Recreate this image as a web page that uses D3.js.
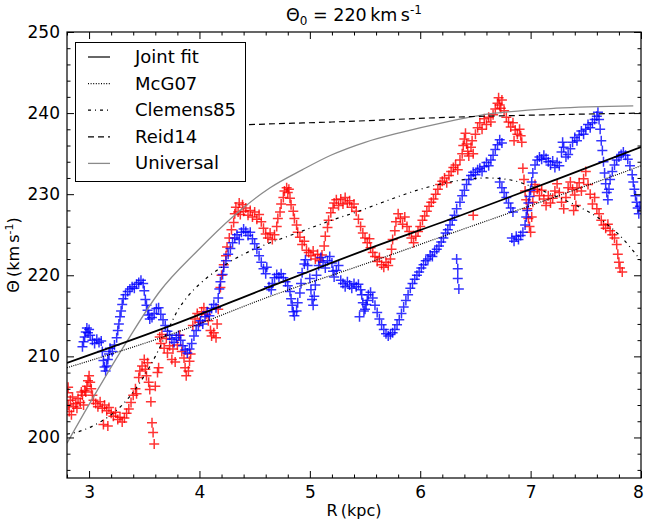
<!DOCTYPE html>
<html>
<head>
<meta charset="utf-8">
<script src="https://cdn.jsdelivr.net/npm/d3@7"></script>
<style>
  html, body { margin: 0; padding: 0; background: #fff; }
  svg { display: block; font-family: "DejaVu Sans", sans-serif; }
</style>
</head>
<body>
<svg id="chart" width="645" height="523"></svg>
<script>
// ---- tick values ----
const xMajorTicks = [3, 4, 5, 6, 7, 8];
const yMajorTicks = [200, 210, 220, 230, 240, 250];

// ---- tracer measurements [R (kpc), Theta (km/s)] ----
const redPoints = [
[2.80,205.5],[2.81,206.2],[2.81,204.0],[2.82,203.2],[2.83,204.6],[2.84,202.8],[2.85,205.0],[2.86,203.8],[2.88,204.2],[2.89,203.6],[2.90,204.8],[2.92,204.3],[2.93,205.6],[2.94,205.2],[2.95,204.0],[2.96,205.8],
[2.97,205.6],[2.98,206.3],[2.99,207.0],[3.00,207.6],[3.01,206.8],[3.02,206.0],[3.03,205.2],[3.04,204.6],
[3.06,204.2],[3.08,203.8],[3.10,204.4],[3.12,203.6],[3.13,201.6],[3.14,204.0],[3.16,203.3],[3.17,201.4],[3.18,203.7],[3.20,203.0],
[3.22,202.6],[3.24,203.1],[3.26,202.2],[3.28,202.5],[3.30,201.9],[3.32,202.4],[3.34,203.0],
[3.36,203.5],[3.38,204.3],[3.40,205.2],[3.42,206.0],[3.43,205.4],
[3.45,207.4],[3.46,208.2],[3.48,208.8],[3.50,209.6],[3.51,208.4],[3.52,207.6],[3.53,209.2],
[3.54,206.8],[3.55,205.9],[3.56,204.4],[3.57,201.8],[3.58,200.6],[3.59,199.2],[3.60,206.3],
[3.62,208.0],[3.63,208.6],[3.64,212.4],[3.65,211.6],[3.66,212.7],[3.68,211.0],
[3.70,212.2],[3.71,210.4],[3.73,211.3],[3.75,209.6],[3.76,210.9],[3.78,209.3],[3.80,211.4],[3.82,212.6],
[3.84,210.6],[3.86,209.8],[3.87,208.6],[3.88,207.6],[3.90,208.2],[3.91,209.4],[3.92,210.3],
[3.94,213.8],[3.96,214.6],[3.98,215.3],[4.00,214.2],[4.02,215.5],
[4.04,216.0],[4.06,215.2],[4.08,214.4],[4.10,213.2],[4.11,212.5],[4.13,212.9],[4.15,212.3],[4.16,214.0],[4.17,215.8],
[4.19,218.5],[4.20,220.0],[4.22,221.3],[4.24,222.4],[4.25,223.5],[4.27,224.6],[4.29,225.6],
[4.31,226.5],[4.32,227.6],[4.33,228.4],[4.35,227.8],[4.36,228.9],[4.37,227.5],
[4.39,228.7],[4.40,227.9],[4.42,228.3],[4.44,227.4],[4.46,228.0],[4.48,227.2],[4.50,227.8],[4.52,226.9],[4.54,227.5],
[4.56,226.6],[4.58,225.8],[4.60,225.1],[4.62,224.6],[4.64,225.2],[4.66,224.4],[4.68,225.0],
[4.70,226.0],[4.71,227.0],[4.73,227.8],[4.74,228.8],[4.76,229.6],[4.77,230.4],[4.79,230.8],[4.80,230.2],[4.81,230.6],[4.82,229.5],[4.83,228.7],[4.85,227.9],[4.86,227.0],[4.88,226.2],[4.89,225.3],[4.91,224.7],[4.93,223.8],[4.95,224.2],[4.97,223.1],[4.99,222.8],
[5.01,222.4],[5.03,223.0],[5.05,222.0],[5.07,222.6],[5.09,221.8],[5.11,222.5],
[5.13,223.6],[5.14,224.8],[5.16,225.9],[5.17,226.8],[5.19,227.7],[5.21,228.3],
[5.22,228.9],[5.24,229.3],[5.26,228.6],[5.28,229.4],[5.30,228.8],[5.32,229.6],[5.34,228.9],[5.36,229.2],[5.38,228.4],[5.40,228.8],[5.42,227.9],
[5.44,226.9],[5.46,226.0],[5.48,225.2],[5.50,224.6],[5.52,224.0],[5.54,224.5],[5.55,223.4],[5.57,222.8],[5.59,222.3],[5.61,221.7],[5.63,222.2],[5.65,221.3],[5.67,221.0],[5.69,221.6],[5.71,221.2],[5.73,222.0],
[5.74,223.2],[5.75,224.4],[5.77,225.5],[5.78,226.6],[5.80,227.6],[5.82,227.0],[5.84,226.3],[5.86,227.2],[5.88,226.0],[5.90,225.4],
[5.92,224.6],[5.94,224.0],[5.96,224.8],[5.98,225.4],
[6.00,226.0],[6.02,226.8],[6.04,227.3],[6.06,227.9],[6.08,228.5],[6.10,229.0],[6.12,229.4],[6.14,230.0],[6.16,230.6],
[6.18,231.2],[6.20,231.6],[6.22,232.0],[6.24,231.4],[6.26,232.3],[6.28,232.8],[6.30,233.3],
[6.32,233.6],[6.34,233.0],[6.36,234.2],[6.38,235.0],[6.39,236.0],[6.40,236.8],[6.41,237.5],[6.42,236.2],[6.43,235.3],[6.44,234.7],[6.46,235.8],[6.47,236.6],[6.48,235.0],[6.48,227.4],
[6.50,237.4],[6.52,238.2],[6.54,238.8],[6.56,238.0],[6.58,239.3],[6.60,238.6],[6.62,239.5],[6.64,238.9],[6.66,239.8],
[6.68,240.5],[6.70,241.2],[6.71,241.9],[6.72,241.0],[6.73,240.6],[6.74,241.6],[6.76,240.3],
[6.78,239.5],[6.80,238.9],[6.82,238.3],[6.84,238.8],[6.85,236.6],[6.86,237.9],[6.88,237.4],[6.90,238.0],[6.91,237.2],[6.92,236.4],
[6.93,233.2],[6.94,231.8],[6.95,230.4],[6.96,229.3],[6.97,228.2],[6.98,227.0],[6.99,226.0],[7.00,225.3],
[7.01,227.2],[7.02,229.0],[7.03,230.3],[7.04,231.2],[7.06,230.6],[7.08,229.8],[7.10,230.5],[7.12,229.4],[7.14,228.6],[7.16,229.8],[7.18,228.9],[7.20,229.5],[7.22,230.4],[7.24,231.3],[7.26,230.2],[7.28,229.0],[7.30,228.2],[7.32,229.6],[7.34,230.8],[7.36,231.5],[7.38,230.6],[7.39,228.0],[7.40,229.9],[7.41,228.6],[7.42,230.8],[7.44,231.4],[7.46,230.4],[7.48,231.9],[7.50,232.8],[7.52,231.2],[7.54,230.0],[7.56,228.8],[7.58,229.6],[7.60,228.2],[7.62,227.6],[7.64,226.8],[7.66,226.2],[7.68,225.8],[7.70,226.3],[7.72,225.5],[7.74,225.0],[7.76,224.6],[7.78,223.8],[7.79,222.6],[7.80,221.6],[7.81,220.9],[7.83,220.4]
];

const bluePoints = [
[2.94,211.2],[2.95,211.8],[2.96,212.4],[2.97,213.0],[2.98,213.5],[2.99,212.9],[3.00,213.3],[3.01,212.6],
[3.03,212.0],[3.05,211.6],[3.07,212.1],[3.09,211.7],[3.11,211.9],
[3.12,210.6],[3.13,209.5],[3.14,208.7],[3.15,208.2],[3.16,208.8],[3.17,209.6],[3.18,210.3],[3.19,211.0],
[3.21,210.6],[3.23,211.4],[3.25,212.3],[3.26,213.2],[3.27,214.0],[3.28,214.9],[3.29,215.6],[3.30,216.4],[3.31,217.1],[3.33,217.6],[3.35,218.0],
[3.37,218.3],[3.39,218.6],[3.41,218.4],[3.43,218.9],[3.45,219.1],[3.47,219.4],[3.49,219.0],
[3.50,218.1],[3.51,217.0],[3.52,216.3],[3.53,215.7],[3.54,215.1],[3.55,214.6],[3.57,214.8],
[3.59,215.3],[3.61,215.9],[3.63,216.0],[3.65,215.2],[3.67,214.5],
[3.69,213.8],[3.71,213.1],[3.73,212.6],[3.75,212.1],[3.77,211.7],[3.79,212.3],
[3.81,212.6],[3.83,212.0],[3.85,211.3],[3.87,210.8],[3.89,210.4],[3.91,210.9],[3.93,211.6],[3.95,212.5],
[3.97,213.2],[3.99,213.8],[4.01,214.4],[4.03,214.0],[4.05,214.9],[4.07,215.5],[4.09,215.0],[4.11,215.9],[4.13,216.4],[4.15,216.0],
[4.17,217.2],[4.18,218.3],[4.19,219.2],[4.21,220.1],[4.22,221.0],[4.24,221.8],[4.26,222.6],[4.28,223.3],[4.30,224.0],
[4.32,224.6],[4.34,225.0],[4.36,224.4],[4.38,225.3],[4.40,225.7],[4.42,225.4],[4.44,224.9],[4.46,225.3],[4.48,224.5],[4.50,223.9],[4.52,223.2],
[4.54,222.4],[4.56,221.6],[4.58,220.8],[4.60,220.2],[4.61,221.0],
[4.63,218.6],[4.65,218.2],[4.66,219.0],[4.68,219.7],[4.70,220.1],[4.72,219.8],[4.74,220.2],[4.76,219.7],[4.78,219.2],[4.80,218.7],
[4.82,218.0],[4.83,217.1],[4.84,216.3],[4.85,215.5],[4.86,215.0],[4.88,215.6],[4.89,216.6],
[4.91,217.8],[4.92,219.0],[4.93,220.3],[4.95,221.4],[4.96,221.9],[4.98,221.2],
[5.00,219.6],[5.01,218.2],[5.02,217.0],[5.03,216.3],[5.04,217.4],
[5.05,218.8],[5.06,220.0],[5.08,221.2],[5.10,222.2],[5.12,221.6],[5.14,220.9],
[5.16,221.8],[5.18,222.3],[5.20,221.5],[5.21,220.5],[5.22,219.8],[5.24,220.6],[5.26,221.2],
[5.28,219.4],[5.30,219.0],[5.32,218.6],[5.34,219.2],[5.36,218.8],[5.38,218.4],[5.40,219.0],[5.42,218.6],[5.44,218.9],[5.45,214.9],[5.46,218.2],
[5.47,217.6],[5.48,216.6],[5.49,215.6],[5.50,215.8],[5.51,216.4],[5.52,216.9],[5.53,217.6],[5.55,217.9],[5.57,217.2],[5.59,216.3],[5.61,215.4],[5.63,214.6],[5.65,213.9],[5.67,213.3],[5.69,212.8],[5.71,212.5],[5.73,212.7],[5.75,212.9],
[5.77,213.3],[5.79,213.9],[5.81,214.5],[5.83,215.3],[5.85,216.1],
[5.87,216.9],[5.89,217.6],[5.91,218.4],[5.93,219.0],[5.95,219.5],[5.97,220.0],
[5.99,220.4],[6.01,220.9],[6.03,221.3],[6.05,221.8],[6.07,222.0],[6.09,222.5],[6.11,222.3],[6.13,222.9],[6.15,223.2],
[6.17,223.6],[6.19,224.1],[6.21,224.6],[6.23,225.2],[6.25,225.6],[6.27,226.2],[6.29,226.8],
[6.31,227.4],[6.33,222.0],[6.34,220.8],[6.34,219.6],[6.35,218.3],
[6.33,228.2],[6.36,229.0],[6.38,229.8],[6.40,230.5],[6.42,231.2],[6.44,231.8],
[6.46,232.3],[6.48,232.7],[6.50,232.4],[6.52,233.0],[6.54,233.2],[6.56,232.8],[6.58,233.4],[6.60,233.9],[6.62,233.5],[6.64,234.2],
[6.66,234.8],[6.68,235.5],[6.70,236.1],[6.72,236.7],[6.74,236.3],
[6.72,231.5],[6.74,230.8],[6.76,230.2],[6.78,229.6],[6.80,228.9],[6.82,228.3],[6.84,227.8],
[6.83,224.6],[6.85,224.2],[6.87,224.8],[6.89,224.4],[6.91,224.9],[6.93,225.3],
[6.95,226.2],[6.96,227.2],[6.97,228.0],[6.98,228.9],[6.99,229.7],[7.00,230.5],
[7.01,231.5],[7.02,232.6],[7.04,233.6],[7.06,234.2],[7.08,234.6],[7.10,234.3],[7.12,234.8],[7.14,234.4],[7.16,234.0],
[7.18,233.6],[7.20,234.1],[7.22,233.3],[7.24,233.9],[7.26,233.5],[7.28,235.2],[7.29,236.4],[7.30,235.8],[7.32,234.6],[7.34,234.9],[7.36,235.6],[7.38,236.4],[7.40,237.0],[7.42,236.6],[7.44,237.3],[7.46,237.8],[7.48,237.4],[7.50,238.0],[7.52,238.6],[7.54,238.2],[7.56,238.8],[7.58,239.2],[7.60,239.6],[7.61,240.1],
[7.62,239.2],[7.63,238.0],[7.64,236.6],[7.65,235.4],[7.66,234.0],[7.67,232.6],[7.68,231.3],[7.69,230.2],[7.70,229.3],
[7.71,230.6],[7.72,231.8],[7.74,232.8],[7.76,233.6],[7.78,234.2],[7.80,234.6],[7.82,234.9],[7.84,235.2],[7.86,234.8],[7.88,234.3],[7.90,233.5],[7.92,232.4],
[7.93,231.5],[7.94,230.6],[7.95,229.8],[7.96,229.0],[7.97,228.3],[7.98,227.6],[7.99,228.5]
];

// ---- rotation-curve models ----
const jointR     = [2.8, 3.8, 4.64, 5.5, 6.37, 7.23, 8.0];
const jointTheta = [209.2, 214.1, 218.6, 223.1, 227.4, 231.8, 235.8];

const mcgR     = [2.8, 3.8, 4.64, 5.5, 6.37, 7.23, 8.0];
const mcgTheta = [208.6, 213.0, 217.4, 221.4, 225.6, 229.7, 233.5];

const clemensR     = [2.8, 2.9, 3.0, 3.1, 3.2, 3.3, 3.4, 3.5, 3.6, 3.7, 3.8, 3.9, 4.0, 4.2, 4.4, 4.6, 4.8, 5.0, 5.2, 5.4, 5.6, 5.8, 6.0, 6.2, 6.4, 6.6, 6.8, 7.0, 7.2, 7.4, 7.6, 7.8, 8.0];
const clemensTheta = [200.4, 200.7, 201.2, 201.9, 202.8, 204.0, 205.6, 207.6, 210.0, 212.8, 215.6, 217.5, 218.9, 221.0, 222.6, 223.8, 224.8, 225.8, 226.8, 227.7, 228.7, 229.7, 230.6, 231.3, 231.8, 232.0, 231.8, 231.0, 229.9, 228.7, 227.2, 225.0, 221.8];

const reidR     = [3.0, 4.0, 4.5, 5.2, 6.3, 7.2, 8.0];
const reidTheta = [237.9, 238.3, 238.6, 238.9, 239.5, 239.8, 240.0];

const universalR     = [2.8, 3.04, 3.35, 3.64, 3.98, 4.3, 4.64, 4.93, 5.19, 5.5, 5.82, 6.23, 6.53, 7.23, 7.93];
const universalTheta = [199.3, 205.0, 212.0, 218.0, 223.0, 227.2, 230.8, 233.0, 234.8, 236.4, 237.6, 238.9, 239.7, 240.6, 240.9];

const legendLabels = ["Joint fit", "McG07", "Clemens85", "Reid14", "Universal"];

// ---- layout ----
const svg = d3.select("#chart");
const padL = 67, padR = 641, padT = 32, padB = 478;
const x = d3.scaleLinear().domain([2.8, 8]).range([padL, padR]);
const y = d3.scaleLinear().domain([195, 250]).range([padB, padT]);
const FS = 17;

const clipId = "plotclip";
svg.append("defs").append("clipPath").attr("id", clipId)
  .append("rect").attr("x", padL).attr("y", padT)
  .attr("width", padR - padL).attr("height", padB - padT);

const plot = svg.append("g").attr("clip-path", `url(#${clipId})`);

// scatter markers ("+" symbols)
const plus = "M-5,0H5M0,-5V5";
function drawSeries(points, color) {
  plot.append("g").selectAll("path").data(points).join("path")
    .attr("d", plus)
    .attr("transform", d => `translate(${x(d[0])},${y(d[1])})`)
    .attr("fill", "none")
    .attr("stroke", color)
    .attr("stroke-width", 1.5)
    .attr("stroke-opacity", 0.8);
}
drawSeries(redPoints, "#ff0000");
drawSeries(bluePoints, "#0000ff");

// model curves
const lineGen = d3.line().x(d => x(d[0])).y(d => y(d[1])).curve(d3.curveMonotoneX);
const zip = (a, b) => a.map((v, i) => [v, b[i]]);
const curves = [
  { pts: zip(universalR, universalTheta), stroke: "#8a8a8a", width: 1.3, dash: null },
  { pts: zip(reidR, reidTheta),           stroke: "#000",    width: 1.2, dash: "6,4" },
  { pts: zip(clemensR, clemensTheta),     stroke: "#000",    width: 1.2, dash: "3,4,1,4" },
  { pts: zip(mcgR, mcgTheta),             stroke: "#000",    width: 1.2, dash: "1,1.2" },
  { pts: zip(jointR, jointTheta),         stroke: "#000",    width: 1.8, dash: null }
];
curves.forEach(c => {
  plot.append("path").attr("d", lineGen(c.pts))
    .attr("fill", "none").attr("stroke", c.stroke)
    .attr("stroke-width", c.width)
    .attr("stroke-dasharray", c.dash);
});

// axes with inward ticks on all four sides
const xMinor = d3.range(2.8, 8.0001, 0.2).map(v => +v.toFixed(1)).filter(v => !xMajorTicks.includes(v));
const yMinor = d3.range(196, 250, 2).filter(v => !yMajorTicks.includes(v));

function styleAxis(g) {
  g.select(".domain").remove();
  g.selectAll("line").attr("stroke", "#000").attr("stroke-width", 1);
  g.selectAll("text").attr("font-size", FS).attr("font-family", "DejaVu Sans").attr("fill", "#000");
}

const xAxisG = svg.append("g").attr("transform", `translate(0,${padB})`)
  .call(d3.axisBottom(x).tickValues(xMajorTicks).tickSize(-7).tickPadding(8).tickFormat(d3.format("d")))
  .call(styleAxis);
// keep the last label inside the page edge
xAxisG.selectAll(".tick text").filter(d => d === 8).attr("dx", -3);
svg.append("g").attr("transform", `translate(0,${padB})`)
  .call(d3.axisBottom(x).tickValues(xMinor).tickSize(-3.5).tickFormat(""))
  .call(styleAxis);
svg.append("g").attr("transform", `translate(0,${padT})`)
  .call(d3.axisTop(x).tickValues(xMajorTicks).tickSize(-7).tickFormat(""))
  .call(styleAxis);
svg.append("g").attr("transform", `translate(0,${padT})`)
  .call(d3.axisTop(x).tickValues(xMinor).tickSize(-3.5).tickFormat(""))
  .call(styleAxis);

svg.append("g").attr("transform", `translate(${padL},0)`)
  .call(d3.axisLeft(y).tickValues(yMajorTicks).tickSize(-7).tickPadding(7).tickFormat(d3.format("d")))
  .call(styleAxis);
svg.append("g").attr("transform", `translate(${padL},0)`)
  .call(d3.axisLeft(y).tickValues(yMinor).tickSize(-3.5).tickFormat(""))
  .call(styleAxis);
svg.append("g").attr("transform", `translate(${padR},0)`)
  .call(d3.axisRight(y).tickValues(yMajorTicks).tickSize(-7).tickFormat(""))
  .call(styleAxis);
svg.append("g").attr("transform", `translate(${padR},0)`)
  .call(d3.axisRight(y).tickValues(yMinor).tickSize(-3.5).tickFormat(""))
  .call(styleAxis);

// frame
svg.append("rect").attr("x", padL).attr("y", padT)
  .attr("width", padR - padL).attr("height", padB - padT)
  .attr("fill", "none").attr("stroke", "#000").attr("stroke-width", 1.2);

// legend
const lg = svg.append("g");
lg.append("rect").attr("x", 75.5).attr("y", 42.5).attr("width", 170).attr("height", 139)
  .attr("fill", "#fff").attr("stroke", "#000").attr("stroke-width", 1);
const legendStyles = [
  { stroke: "#000", width: 1.2, dash: null },
  { stroke: "#000", width: 1.2, dash: "1,1.6" },
  { stroke: "#000", width: 1.2, dash: "3,4,1,4" },
  { stroke: "#000", width: 1.2, dash: "6,4" },
  { stroke: "#8a8a8a", width: 1.3, dash: null }
];
legendLabels.forEach((label, i) => {
  const cy = 57 + i * 26.6;
  lg.append("line").attr("x1", 88).attr("x2", 110).attr("y1", cy).attr("y2", cy)
    .attr("stroke", legendStyles[i].stroke).attr("stroke-width", legendStyles[i].width)
    .attr("stroke-dasharray", legendStyles[i].dash);
  lg.append("text").attr("x", 135).attr("y", cy + 6).attr("font-size", FS + 1)
    .text(label);
});

// title
const title = svg.append("text").attr("x", 354).attr("y", 21)
  .attr("text-anchor", "middle").attr("font-size", 17.5);
title.append("tspan").text("Θ");
title.append("tspan").attr("font-size", 12).attr("dy", 4).text("0");
title.append("tspan").attr("dy", -4).text(" = 220\u2009km\u2009s");
title.append("tspan").attr("font-size", 12).attr("dy", -7).text("-1");

// axis labels
svg.append("text").attr("x", 354).attr("y", 516).attr("text-anchor", "middle")
  .attr("font-size", FS - 1).text("R\u2009(kpc)");

const yl = svg.append("text").attr("transform", "translate(19,255) rotate(-90)")
  .attr("text-anchor", "middle").attr("font-size", FS - 1);
yl.append("tspan").text("Θ\u2009(km\u2009s");
yl.append("tspan").attr("font-size", 11).attr("dy", -6).text("-1");
yl.append("tspan").attr("dy", 6).text(")");
</script>
</body>
</html>
